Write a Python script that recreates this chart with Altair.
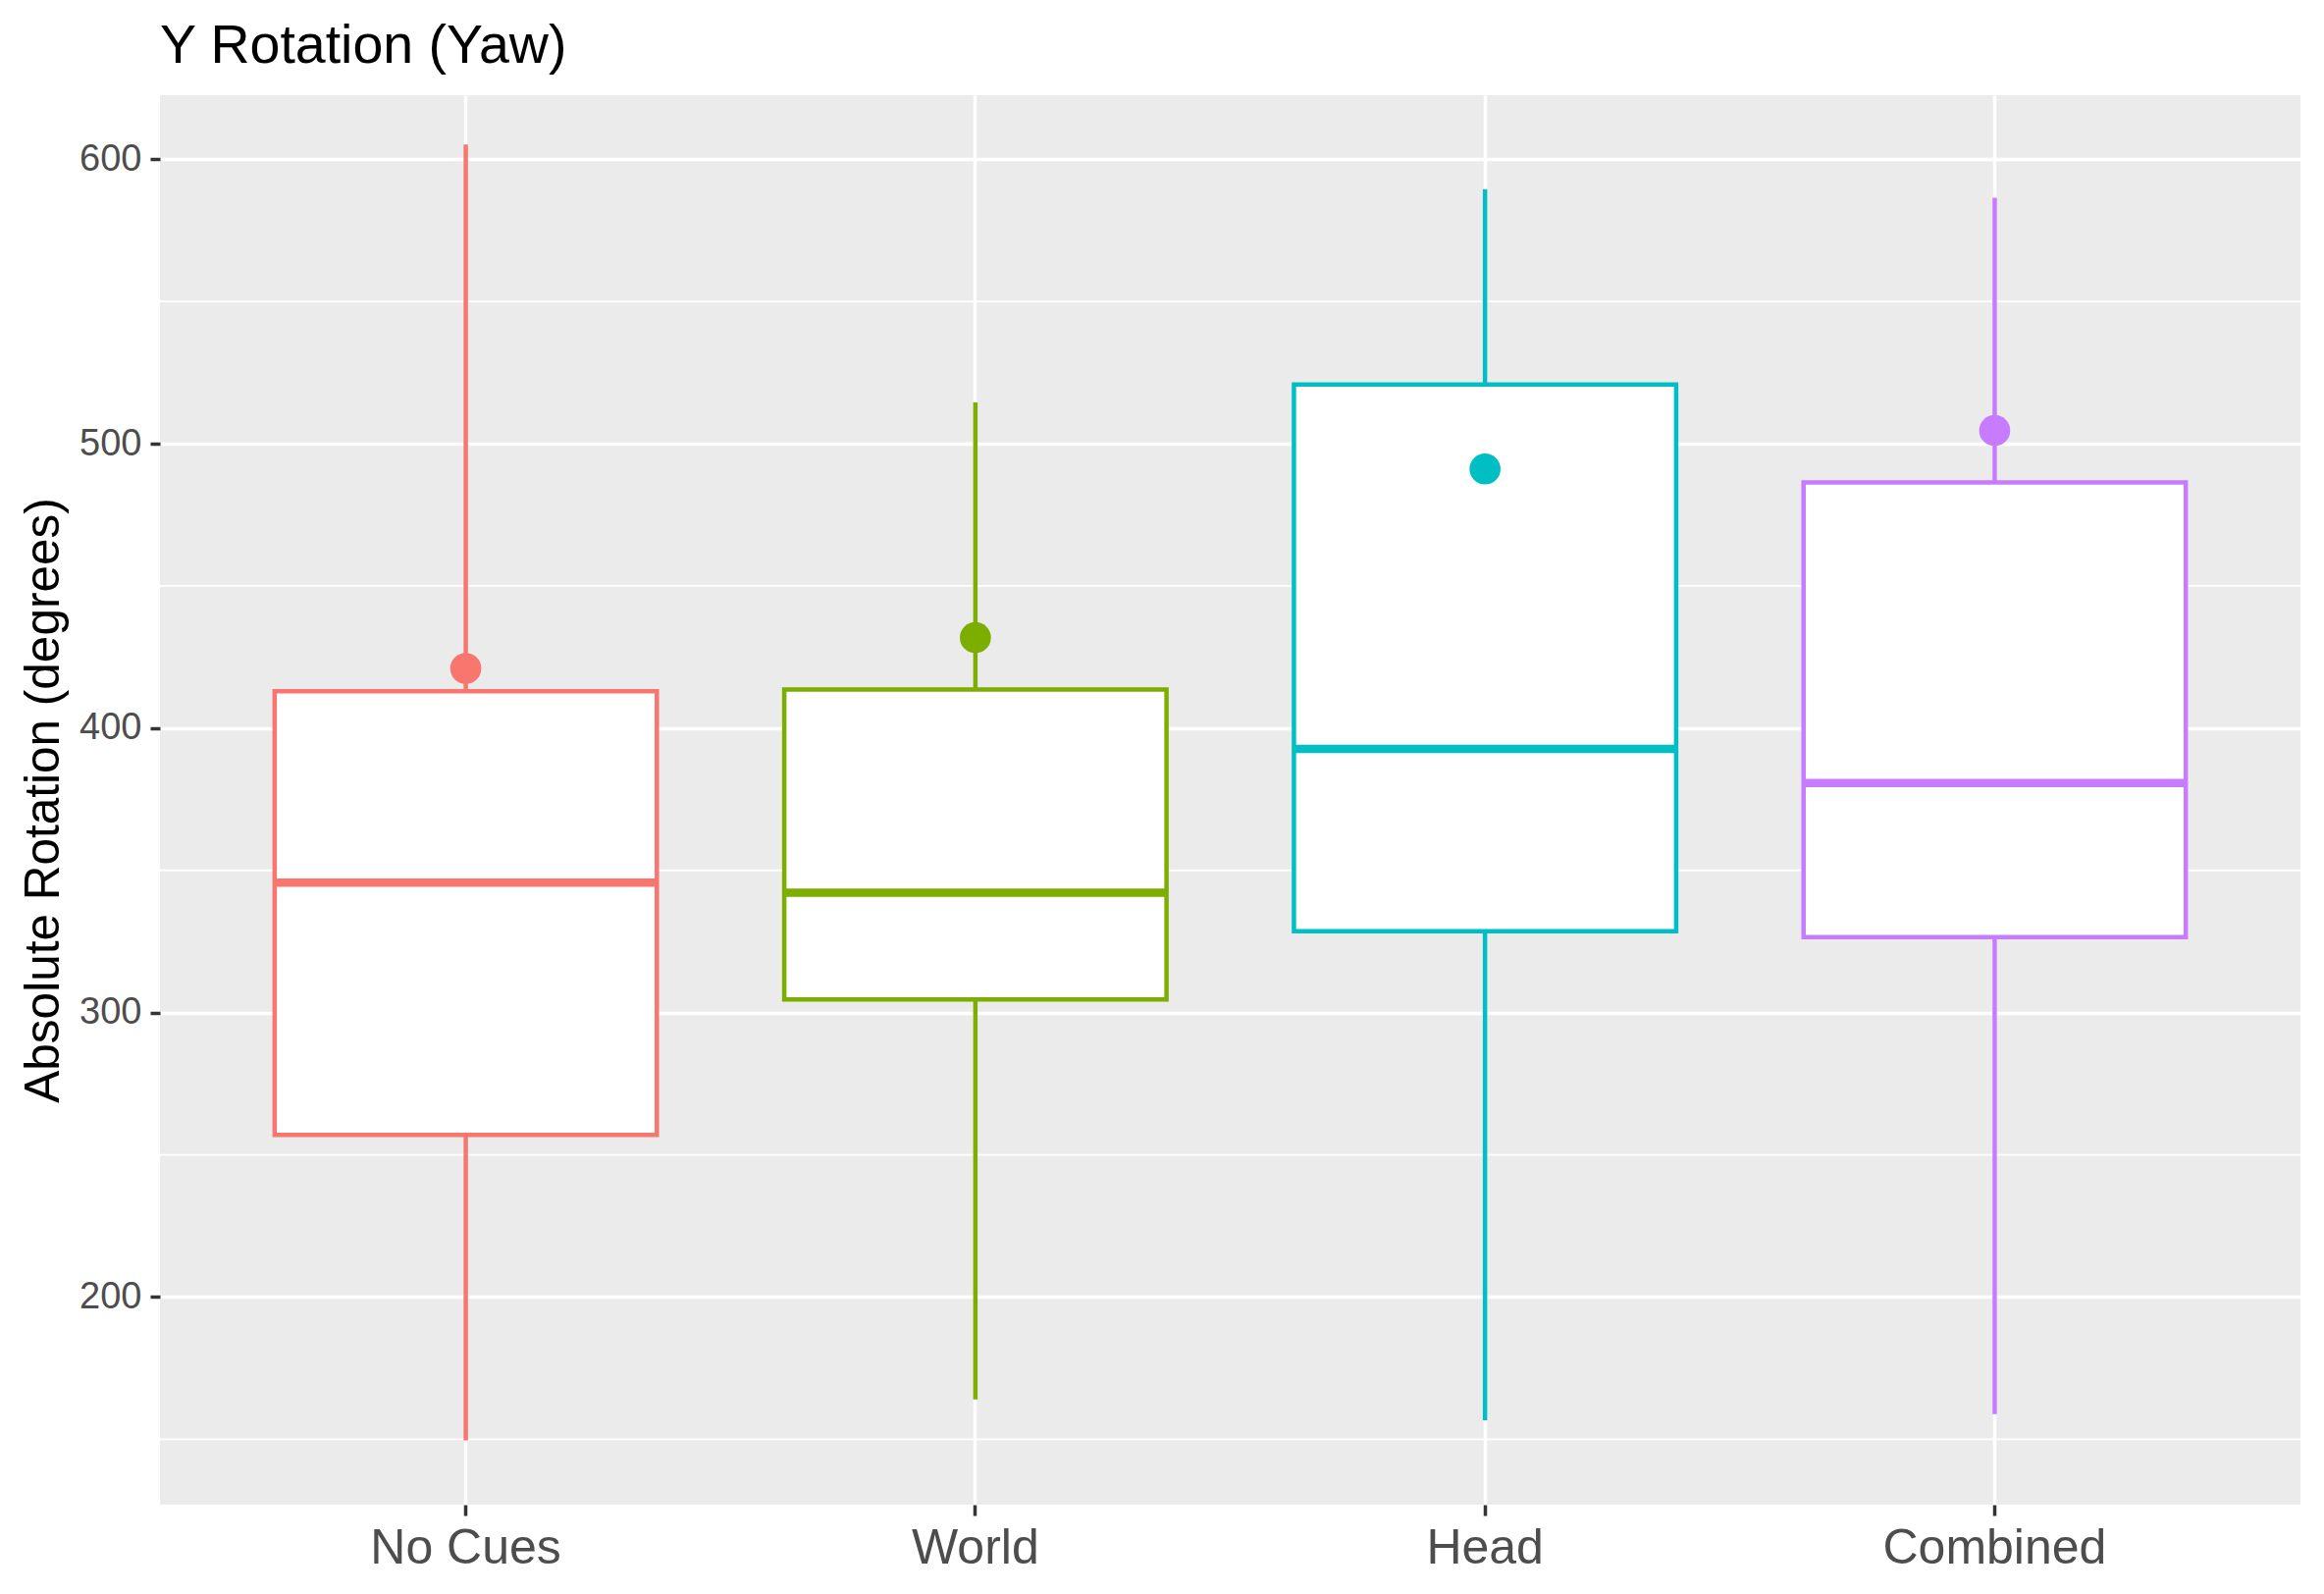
import altair as alt
import pandas as pd

categories = ["No Cues", "World", "Head", "Combined"]
whisker_low = [149.6, 164.0, 156.7, 158.8]
q1 = [257.0, 304.6, 328.6, 326.5]
median = [345.7, 342.1, 392.7, 380.7]
q3 = [413.0, 413.6, 520.8, 486.4]
whisker_high = [605.2, 514.5, 589.5, 586.4]
means = [421.0, 431.8, 491.1, 504.6]
colors = ["#F8766D", "#7CAE00", "#00BFC4", "#C77CFF"]
minor_breaks = [150, 250, 350, 450, 550]
major_breaks = [200, 300, 400, 500, 600]

df = pd.DataFrame({
    "cond": categories, "lo": whisker_low, "q1": q1, "med": median,
    "q3": q3, "hi": whisker_high, "mean": means,
})
minor_df = pd.DataFrame({"v": minor_breaks})

FONT = "Liberation Sans"
W, H = 2181, 1436
step = W / 4.2

xenc = alt.X(
    "cond:N", sort=categories, title=None,
    scale=alt.Scale(domain=categories, paddingInner=0, paddingOuter=0.1),
    axis=alt.Axis(bandPosition=0.5, grid=True, gridColor="white", gridWidth=3.5,
                  domain=False, ticks=True, tickColor="#333333", tickWidth=3.5,
                  tickSize=11, labelFont=FONT, labelFontSize=50, labelLimit=0,
                  labelColor="#4D4D4D", labelPadding=8, labelAngle=0),
)
yscale = alt.Scale(domain=[127, 622.5], nice=False, zero=False)
yaxis = alt.Axis(values=major_breaks, grid=True, gridColor="white", gridWidth=3.5,
                 domain=False, tickColor="#333333", tickWidth=3.5, tickSize=10,
                 labelFont=FONT, labelFontSize=38, labelColor="#4D4D4D",
                 labelPadding=9, title="Absolute Rotation (degrees)",
                 titleFont=FONT, titleFontSize=49.5, titleFontWeight="normal",
                 titleColor="black", titlePadding=11)
cscale = alt.Scale(domain=categories, range=colors)

minor = alt.Chart(minor_df).mark_rule(color="white", strokeWidth=1.8).encode(
    y=alt.Y("v:Q", scale=yscale, axis=yaxis)
)

base = alt.Chart(df).encode(x=xenc)

whisk = base.mark_rule(strokeWidth=4.5).encode(
    y=alt.Y("lo:Q", scale=yscale, axis=yaxis), y2="hi:Q",
    color=alt.Color("cond:N", scale=cscale, legend=None),
)
box = base.mark_bar(width=alt.RelativeBandSize(0.75), fill="white", strokeWidth=4.5,
                    fillOpacity=1).encode(
    y=alt.Y("q1:Q", scale=yscale), y2="q3:Q",
    stroke=alt.Stroke("cond:N", scale=cscale, legend=None),
)
med = base.mark_tick(thickness=8.5, size=0.75 * step, opacity=1).encode(
    y=alt.Y("med:Q", scale=yscale),
    color=alt.Color("cond:N", scale=cscale, legend=None),
)
pts = base.mark_point(filled=True, size=1000, opacity=1, shape="circle").encode(
    y=alt.Y("mean:Q", scale=yscale),
    color=alt.Color("cond:N", scale=cscale, legend=None),
)

chart = alt.layer(minor, whisk, box, med, pts).properties(
    width=W, height=H,
    background="white",
    title=alt.TitleParams("Y Rotation (Yaw)", anchor="start", frame="group",
                          font=FONT, fontSize=55.5, fontWeight="normal",
                          color="black", offset=22),
    padding={"left": 163, "top": 97, "right": 24, "bottom": 91},
    autosize=alt.AutoSizeParams(type="none"),
).configure_view(fill="#EBEBEB", stroke=None)

chart.save("out.html", embed_options={"renderer": "svg", "actions": False})
